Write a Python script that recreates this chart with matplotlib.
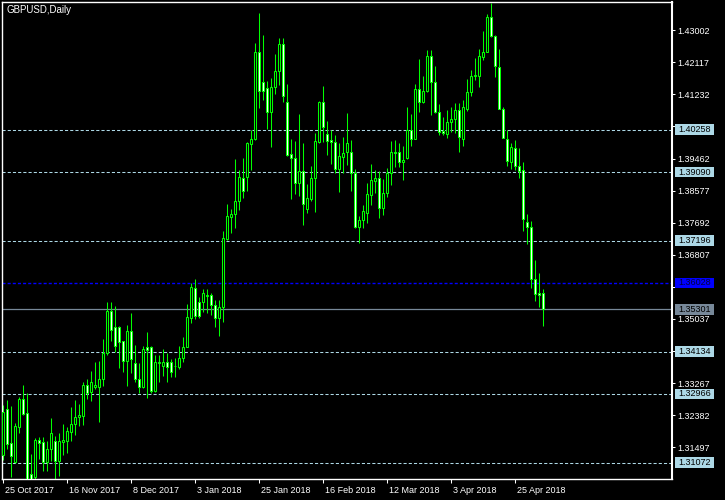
import matplotlib
matplotlib.use('Agg')
import matplotlib.pyplot as plt
from matplotlib.patches import Rectangle
from matplotlib.transforms import ScaledTranslation, blended_transform_factory

# GBPUSD daily bars, 25 Oct 2017 .. early May 2018 (bar index = position)
opens = [1.31280, 1.32550, 1.31611, 1.31087, 1.32053, 1.32826, 1.32439, 1.30756, 1.30673, 1.31694,
         1.31639, 1.31087, 1.31446, 1.31666, 1.31114, 1.31639, 1.31666, 1.31915, 1.32136, 1.32329,
         1.32356, 1.33212, 1.33019, 1.33157, 1.33157, 1.33378, 1.34095, 1.35254, 1.34813, 1.34813,
         1.34426, 1.33874, 1.34702, 1.33819, 1.33378, 1.33157, 1.34261, 1.34261, 1.33046, 1.33819,
         1.33736, 1.33847, 1.33847, 1.33736, 1.33709, 1.33957, 1.34261, 1.35061, 1.35889, 1.35503,
         1.35503, 1.35668, 1.35696, 1.35420, 1.35061, 1.35365, 1.37242, 1.37849, 1.37932, 1.38290,
         1.38925, 1.38953, 1.39864, 1.40002, 1.42403, 1.41575, 1.41409, 1.40747, 1.41437, 1.41878,
         1.42624, 1.41023, 1.39588, 1.39477, 1.38787, 1.39118, 1.38070, 1.38346, 1.38925, 1.39919,
         1.41023, 1.40140, 1.39974, 1.39919, 1.39174, 1.39505, 1.39643, 1.39643, 1.39063, 1.37573,
         1.37766, 1.37959, 1.38456, 1.38842, 1.38925, 1.38097, 1.38511, 1.39063, 1.39643, 1.39643,
         1.39367, 1.39477, 1.40250, 1.40002, 1.41382, 1.41023, 1.41326, 1.42292, 1.41575, 1.40747,
         1.40222, 1.40140, 1.40471, 1.40554, 1.40802, 1.40002, 1.40830, 1.41299, 1.41740, 1.41740,
         1.42265, 1.42403, 1.43369, 1.42844, 1.41989, 1.40840, 1.40002, 1.39367, 1.39753, 1.39256,
         1.39146, 1.37711, 1.37573, 1.36138, 1.35751, 1.35751]
highs = [1.32660, 1.32798, 1.32632, 1.32163, 1.32881, 1.33212, 1.32991, 1.31308, 1.31749, 1.31777,
         1.31777, 1.31666, 1.32301, 1.31804, 1.31887, 1.32136, 1.32053, 1.32605, 1.32798, 1.32688,
         1.33295, 1.33378, 1.33598, 1.33847, 1.33874, 1.34482, 1.35503, 1.35503, 1.35392, 1.34840,
         1.34440, 1.34868, 1.35199, 1.34316, 1.33819, 1.34288, 1.34675, 1.34288, 1.34040, 1.34040,
         1.34206, 1.34095, 1.33930, 1.33957, 1.34288, 1.34537, 1.35448, 1.36027, 1.36138, 1.35641,
         1.35862, 1.35862, 1.35751, 1.35558, 1.35558, 1.37462, 1.38208, 1.38070, 1.39450, 1.39146,
         1.39477, 1.39919, 1.40250, 1.42651, 1.43479, 1.42872, 1.41602, 1.41685, 1.42348, 1.42789,
         1.42789, 1.41520, 1.40002, 1.39946, 1.40692, 1.39891, 1.38760, 1.39256, 1.40167, 1.41050,
         1.41464, 1.40498, 1.40250, 1.40112, 1.39891, 1.40057, 1.40719, 1.39974, 1.39174, 1.37876,
         1.38180, 1.38787, 1.39312, 1.39146, 1.39118, 1.38898, 1.39201, 1.39946, 1.39974, 1.39891,
         1.39808, 1.40885, 1.40692, 1.41520, 1.42210, 1.41740, 1.42458, 1.42458, 1.42016, 1.40968,
         1.40609, 1.40802, 1.40885, 1.40995, 1.40995, 1.41078, 1.41658, 1.41906, 1.42237, 1.42486,
         1.42982, 1.43452, 1.43755, 1.42860, 1.42486, 1.40885, 1.40250, 1.39891, 1.39974, 1.39753,
         1.39367, 1.37932, 1.37738, 1.36662, 1.36303, 1.35862]
lows = [1.31142, 1.31446, 1.30673, 1.31059, 1.31887, 1.32384, 1.30314, 1.30424, 1.30618, 1.31170,
        1.30838, 1.30838, 1.31114, 1.30618, 1.30700, 1.31280, 1.31335, 1.31666, 1.31832, 1.32080,
        1.32108, 1.32826, 1.32770, 1.33102, 1.32191, 1.33184, 1.34040, 1.34426, 1.34123, 1.33681,
        1.33571, 1.33184, 1.33543, 1.33295, 1.32991, 1.33129, 1.32853, 1.32991, 1.33030, 1.33295,
        1.33460, 1.33295, 1.33433, 1.33433, 1.33654, 1.33847, 1.34250, 1.34923, 1.35034, 1.35061,
        1.35227, 1.35199, 1.35144, 1.34813, 1.34564, 1.34951, 1.37214, 1.37407, 1.37545, 1.38042,
        1.38373, 1.38566, 1.39146, 1.39974, 1.40857, 1.41078, 1.40278, 1.39781, 1.41244, 1.41492,
        1.41023, 1.39532, 1.38346, 1.38484, 1.38428, 1.37628, 1.37959, 1.38290, 1.37987, 1.39900,
        1.39919, 1.39560, 1.39312, 1.39063, 1.38539, 1.39063, 1.39284, 1.38566, 1.37545, 1.37131,
        1.37545, 1.37683, 1.38180, 1.38511, 1.37821, 1.37904, 1.38401, 1.38732, 1.39229, 1.39229,
        1.38870, 1.39460, 1.39808, 1.39990, 1.40747, 1.40995, 1.41299, 1.40664, 1.40719, 1.40112,
        1.40112, 1.40029, 1.40195, 1.40167, 1.39643, 1.39808, 1.40774, 1.41188, 1.41630, 1.41437,
        1.42182, 1.42390, 1.42817, 1.41713, 1.40820, 1.40029, 1.39256, 1.39174, 1.39146, 1.38925,
        1.37462, 1.37104, 1.35889, 1.35530, 1.35365, 1.34840]
closes = [1.32467, 1.31584, 1.31252, 1.32080, 1.32826, 1.32412, 1.30535, 1.30590, 1.31694, 1.31611,
          1.31087, 1.31446, 1.31887, 1.31114, 1.31666, 1.31694, 1.31942, 1.32136, 1.32329, 1.32384,
          1.33212, 1.32991, 1.33295, 1.33212, 1.33378, 1.34095, 1.35254, 1.34730, 1.34288, 1.34399,
          1.33874, 1.34702, 1.33930, 1.33378, 1.33157, 1.34206, 1.34178, 1.33046, 1.33847, 1.33847,
          1.33847, 1.33709, 1.33571, 1.33740, 1.33957, 1.34261, 1.35089, 1.35917, 1.35116, 1.35116,
          1.35751, 1.35696, 1.35420, 1.35061, 1.35365, 1.37269, 1.37876, 1.37932, 1.38290, 1.38953,
          1.38566, 1.39891, 1.40002, 1.42403, 1.41326, 1.41326, 1.40747, 1.41437, 1.41878, 1.42624,
          1.41188, 1.39560, 1.39477, 1.38787, 1.39118, 1.38208, 1.38373, 1.38925, 1.39946, 1.41023,
          1.40333, 1.39946, 1.39919, 1.39174, 1.39532, 1.39615, 1.39891, 1.39063, 1.37573, 1.37766,
          1.38014, 1.38484, 1.38870, 1.38925, 1.38097, 1.38511, 1.39063, 1.39643, 1.39615, 1.39367,
          1.39422, 1.40250, 1.40002, 1.41382, 1.41023, 1.41326, 1.42292, 1.41575, 1.40747, 1.40195,
          1.40167, 1.40471, 1.40554, 1.40802, 1.40057, 1.40885, 1.41299, 1.41740, 1.41768, 1.42292,
          1.42403, 1.43369, 1.42844, 1.42016, 1.40840, 1.40040, 1.39394, 1.39781, 1.39256, 1.39118,
          1.37794, 1.37573, 1.36138, 1.35724, 1.35696, 1.35301]

date_pos = [0, 16, 32, 48, 64, 80, 96, 112, 128]
date_labels = ['25 Oct 2017', '16 Nov 2017', '8 Dec 2017', '3 Jan 2018', '25 Jan 2018',
               '16 Feb 2018', '12 Mar 2018', '3 Apr 2018', '25 Apr 2018']
price_ticks = [1.43002, 1.42117, 1.41232, 1.40347, 1.39462, 1.38577, 1.37692,
               1.36807, 1.35922, 1.35037, 1.34152, 1.33267, 1.32382, 1.31497]
# these scale labels sit under the level boxes in the terminal
hidden_ticks = [1.40347, 1.35922, 1.34152]
levels = [1.40258, 1.39090, 1.37196, 1.34134, 1.32966, 1.31072]
blue_level = 1.36028
last_price = closes[-1]

BG = 'black'
FG = 'white'
LIME = '#00ff00'
LBLUE = '#add8e6'
GREY = '#778899'

plt.rcParams['font.family'] = ['Liberation Sans', 'DejaVu Sans']

fig = plt.figure(figsize=(7.25, 5.0), dpi=100, facecolor=BG)
W, H = 725.0, 500.0
ax = fig.add_axes([2 / W, 20.7 / H, 670 / W, 477 / H], facecolor=BG)

ax.set_xlim(-0.125, 167.375)
ax.set_ylim(1.30609, 1.43775)

# candles
for i in range(len(opens)):
    o, h, l, c = opens[i], highs[i], lows[i], closes[i]
    ax.vlines(i, l, h, color=LIME, lw=0.75, zorder=2)
    fill = BG if c >= o else FG
    bh = abs(c - o)
    if bh < 0.00008:
        bh = 0.00008
    ax.bar(i, bh, bottom=min(o, c), width=0.5, color=fill,
           edgecolor=LIME, linewidth=0.75, zorder=3)

# horizontal levels
for lv in levels:
    ax.axhline(lv, color=LBLUE, lw=0.75, ls=(0, (3, 2)), zorder=1)
ax.axhline(blue_level, color='#0000ff', lw=1.0, ls=(0, (2.2, 1.5)), zorder=1)
ax.axhline(last_price, color=GREY, lw=0.9, zorder=1)

# axes frame
for s in ['left', 'top', 'bottom']:
    ax.spines[s].set_color(FG)
    ax.spines[s].set_linewidth(1.0)
ax.spines['right'].set_color(FG)
ax.spines['right'].set_linewidth(1.5)

ax.yaxis.tick_right()
ax.set_yticks(price_ticks)
ax.set_yticklabels(['' if p in hidden_ticks else '%.5f' % p for p in price_ticks])
ax.tick_params(axis='y', colors=FG, labelcolor=FG, length=2.5, width=0.75,
               pad=1.2, labelsize=6.5, direction='out')

ax.set_xticks(date_pos)
ax.set_xticklabels(date_labels)
ax.tick_params(axis='x', colors=FG, labelcolor=FG, length=3, width=0.75,
               pad=1.5, labelsize=6.5, direction='out')
off = ScaledTranslation(2 / 72.0, 0, fig.dpi_scale_trans)
for lbl in ax.get_xticklabels():
    lbl.set_horizontalalignment('left')
    lbl.set_transform(lbl.get_transform() + off)

# price label boxes on the right scale
trans = blended_transform_factory(ax.transAxes, ax.transData)
box_x = 1 + 3 / 670.0
box_w = 39 / 670.0
box_h = 10.7 / 3624.0


def price_box(y, fc, tc='black'):
    r = Rectangle((box_x, y - box_h / 2), box_w, box_h, transform=trans,
                  facecolor=fc, edgecolor='none', clip_on=False, zorder=5)
    ax.add_patch(r)
    ax.text(box_x + box_w / 2, y, '%.5f' % y, transform=trans, color=tc,
            fontsize=6.5, ha='center', va='center', clip_on=False, zorder=6)


for lv in levels:
    price_box(lv, LBLUE)
price_box(blue_level, '#0000ff', '#000040')
price_box(last_price, GREY)

fig.text(6.5 / W, 1 - 10 / H, 'GBPUSD,Daily', color=FG, fontsize=7, va='center', ha='left')

fig.savefig('out.png', dpi=100, facecolor=BG)
